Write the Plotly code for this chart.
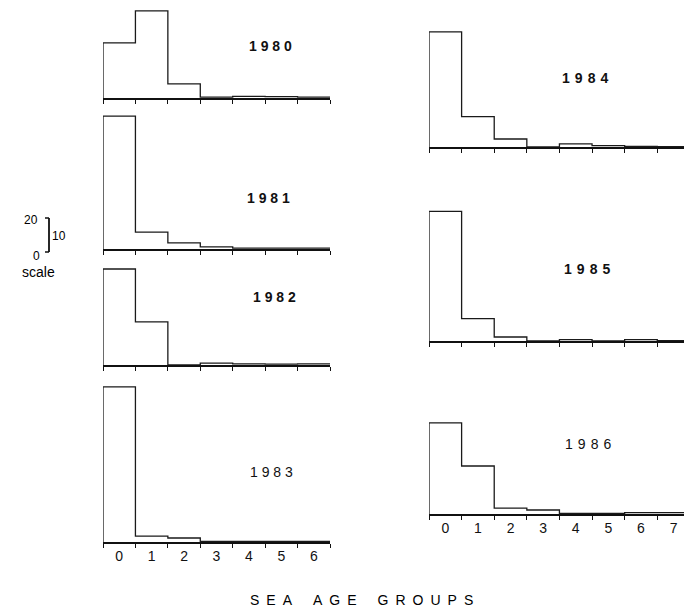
import plotly.graph_objects as go

# ---- data (percent of catch by sea age group) ----
years_left = ["1980", "1981", "1982", "1983"]
years_right = ["1984", "1985", "1986"]
ages_left = [0, 1, 2, 3, 4, 5, 6]
ages_right = [0, 1, 2, 3, 4, 5, 6, 7]

v1980 = [34.4, 54.4, 8.8, 0.6, 1.0, 0.8, 0.5]
v1981 = [83.0, 10.6, 3.8, 1.3, 0.6, 0.5, 0.6]
v1982 = [60.0, 27.0, 0.0, 1.2, 0.7, 0.6, 0.7]
v1983 = [97.0, 3.7, 2.5, 0.3, 0.3, 0.4, 0.3]
v1984 = [72.0, 19.0, 5.0, 0.0, 2.0, 0.8, 0.3, 0.2]
v1985 = [81.0, 14.0, 2.5, 0.0, 0.8, 0.0, 0.8, 0.2]
v1986 = [57.0, 30.0, 3.7, 2.5, 0.3, 0.4, 0.8, 0.9]

tick_labels_left = ["0", "1", "2", "3", "4", "5", "6"]
tick_labels_right = ["0", "1", "2", "3", "4", "5", "6", "7"]
x_title = "SEA AGE GROUPS"

# ---- layout geometry (pixels) ----
W, H = 684, 612
PX_PER_UNIT = 1.6
LEFT_X = (103, 330)
RIGHT_X = (429, 684)
RIGHT_RANGE_END = 7.32

panels = [
    # year, values, ages, labels, baseline px, column, label pos, bottom?, bold
    ("1980", v1980, ages_left, tick_labels_left, 98, "L", (270, 46), False, True),
    ("1981", v1981, ages_left, tick_labels_left, 249, "L", (268, 198), False, True),
    ("1982", v1982, ages_left, tick_labels_left, 365, "L", (274, 297), False, True),
    ("1983", v1983, ages_left, tick_labels_left, 542, "L", (271, 472), True, False),
    ("1984", v1984, ages_right, tick_labels_right, 147, "R", (585, 78), False, True),
    ("1985", v1985, ages_right, tick_labels_right, 341, "R", (587, 269), False, True),
    ("1986", v1986, ages_right, tick_labels_right, 514, "R", (588, 444), True, False),
]

fig = go.Figure()
layout = {}
annotations = []
FONT = "Liberation Sans, Arial, sans-serif"

for i, (year, vals, ages, labels, base, col, lpos, bottom, bold) in enumerate(panels, start=1):
    edges = [a - 0.5 for a in ages] + [ages[-1] + 0.5]
    xs = [edges[0], edges[0]] + edges[1:-1] + [edges[-1]]
    ys = [0] + list(vals) + [vals[-1]]
    xa = "x" if i == 1 else f"x{i}"
    ya = "y" if i == 1 else f"y{i}"
    fig.add_trace(go.Scatter(x=xs, y=ys, mode="lines", line=dict(color="#1a1a1a", width=1.3, shape="hv"),
                             xaxis=xa, yaxis=ya, showlegend=False, hoverinfo="skip"))
    ytop = max(vals) * 1.04
    y0 = 1 - base / H
    y1 = 1 - (base - ytop * PX_PER_UNIT) / H
    xpx = LEFT_X if col == "L" else RIGHT_X
    xr = [-0.5, ages[-1] + 0.5] if col == "L" else [-0.5, RIGHT_RANGE_END]
    xkey = "xaxis" if i == 1 else f"xaxis{i}"
    ykey = "yaxis" if i == 1 else f"yaxis{i}"
    layout[xkey] = dict(
        domain=[xpx[0] / W, xpx[1] / W], range=xr, anchor=ya,
        showline=True, linecolor="#111", linewidth=1.8, showgrid=False, zeroline=False,
        tickvals=ages, ticktext=labels, ticks="", showticklabels=bottom,
        tickfont=dict(family=FONT, size=14, color="#111"),
        minor=dict(tick0=-0.5, dtick=1, ticks="outside", ticklen=4, tickcolor="#111", tickwidth=1, showgrid=False),
        fixedrange=True,
    )
    layout[ykey] = dict(domain=[y0, y1], range=[0, ytop], anchor=xa, visible=False, fixedrange=True)
    sep = " " if col == "L" else " \u200a"
    txt = sep.join(year)
    if bold:
        txt = f"<b>{txt}</b>"
    annotations.append(dict(x=lpos[0] / W, y=1 - lpos[1] / H, xref="paper", yref="paper", text=txt,
                            showarrow=False, xanchor="center", yanchor="middle",
                            font=dict(family=FONT, size=14, color="#111")))

# spaced axis title
words = x_title.split(" ")
title_txt = "\u2002\u2002\u2002".join("\u2002".join(w) for w in words)


def note(x, y, text, size):
    return dict(x=x / W, y=1 - y / H, text=text, showarrow=False, xref="paper", yref="paper",
                xanchor="center", yanchor="middle", font=dict(family=FONT, size=size, color="black"))


# scale legend + title
annotations += [
    note(31, 220, "20", 12),
    note(59, 236, "10", 12),
    note(36, 256, "0", 12),
    note(38, 272, "scale", 14),
    note(361, 600, title_txt, 14),
]

shapes = [
    dict(type="line", xref="paper", yref="paper", x0=49 / W, x1=49 / W, y0=1 - 218 / H, y1=1 - 252 / H,
         line=dict(color="#111", width=1.8)),
    dict(type="line", xref="paper", yref="paper", x0=45 / W, x1=49 / W, y0=1 - 218 / H, y1=1 - 218 / H,
         line=dict(color="#111", width=1.5)),
    dict(type="line", xref="paper", yref="paper", x0=45 / W, x1=49 / W, y0=1 - 252 / H, y1=1 - 252 / H,
         line=dict(color="#111", width=1.5)),
]

fig.update_layout(
    width=W, height=H, margin=dict(l=0, r=0, t=0, b=0),
    paper_bgcolor="white", plot_bgcolor="rgba(0,0,0,0)",
    annotations=annotations, shapes=shapes, **layout,
)

fig.write_html("out.html")
